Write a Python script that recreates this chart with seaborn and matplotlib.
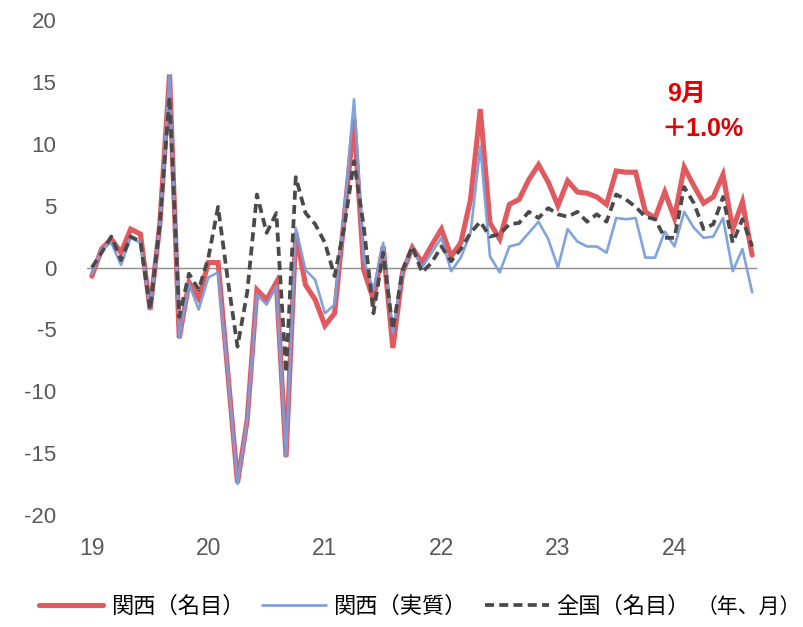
import numpy as np
import pandas as pd
import matplotlib
matplotlib.use("Agg")
import matplotlib.pyplot as plt
from matplotlib.lines import Line2D
import seaborn as sns

sns.set_style("white")
plt.rcParams["font.family"] = ["Liberation Sans", "Noto Sans CJK JP", "DejaVu Sans"]

# Monthly year-on-year change (%), Jan 2019 - Sep 2024
kansai_nominal = [
    -0.7, 1.5, 2.3, 1.2, 3.1, 2.7, -3.4, 3.5, 15.6, -5.7, -1.2, -2.5,
    0.4, 0.4, -8.5, -17.4, -12.3, -1.8, -2.6, -1.2, -15.3, 2.8, -1.4, -2.6,
    -4.7, -3.7, 4.1, 12.0, -0.2, -2.6, 1.7, -6.5, -0.4, 1.6, 0.4, 1.8,
    3.1, 0.9, 2.0, 5.5, 12.8, 3.6, 2.3, 5.1, 5.5, 7.1, 8.3, 6.9,
    5.0, 7.0, 6.1, 6.0, 5.7, 5.1, 7.8, 7.7, 7.7, 4.5, 4.0, 6.1,
    4.0, 8.1, 6.6, 5.2, 5.7, 7.5, 3.1, 5.3, 1.0,
]
kansai_real = [
    -0.5, 1.5, 2.0, 0.2, 2.4, 2.0, -3.4, 3.5, 15.5, -5.7, -1.3, -3.4,
    -0.8, -0.4, -8.5, -17.5, -12.3, -2.2, -3.0, -1.5, -15.3, 3.2, -0.2, -1.0,
    -3.7, -3.0, 4.5, 13.6, 0.6, -1.8, 2.0, -5.3, -0.2, 1.5, 0.0, 1.2,
    2.4, -0.3, 0.8, 2.8, 9.8, 0.9, -0.4, 1.7, 1.9, 2.8, 3.7, 2.3,
    0.0, 3.1, 2.1, 1.7, 1.7, 1.2, 4.0, 3.9, 4.0, 0.8, 0.8, 2.9,
    1.7, 4.5, 3.2, 2.4, 2.5, 4.0, -0.3, 1.5, -2.0,
]
national_nominal = [
    0.0, 1.2, 2.5, 0.6, 2.5, 2.1, -3.4, 3.5, 13.8, -4.0, -0.5, -1.8,
    0.8, 4.9, -1.0, -6.4, -2.0, 5.9, 2.8, 4.4, -8.5, 7.3, 4.4, 3.5,
    2.0, -0.7, 3.3, 8.6, 3.3, -3.7, 1.2, -5.0, -0.2, 1.7, -0.4, 0.4,
    1.7, 0.5, 1.5, 2.8, 3.7, 2.5, 2.7, 3.5, 3.6, 4.5, 4.0, 4.8,
    4.3, 4.1, 4.5, 3.7, 4.3, 3.7, 5.9, 5.5, 4.9, 4.1, 3.9, 2.4,
    2.4, 6.5, 5.2, 3.1, 3.5, 5.7, 2.0, 3.9, 1.7,
]
year_labels = ["19", "20", "21", "22", "23", "24"]
series_names = ["関西（名目）", "関西（実質）", "全国（名目）"]
unit_note = "（年、月）"

months = np.arange(len(kansai_nominal))
df = pd.DataFrame({
    "month": months,
    "nominal": kansai_nominal,
    "real": kansai_real,
    "national": national_nominal,
})

RED = "#e05a60"
BLUE = "#7a9fdc"
GREY = "#4a4a4a"
TEXT = "#595959"
DASH = (0, (2.4, 1.4))

fig = plt.figure(figsize=(8.04, 6.27), dpi=100)
ax = fig.add_axes([87 / 804, 1 - 515 / 627, 670 / 804, 495 / 627])

ax.axhline(0, color="#8c8c8c", lw=1.0, zorder=1)

sns.lineplot(data=df, x="month", y="nominal", ax=ax, color=RED, lw=3.7,
             zorder=3, solid_joinstyle="miter")
sns.lineplot(data=df, x="month", y="real", ax=ax, color=BLUE, lw=1.9,
             zorder=4, alpha=0.95)
sns.lineplot(data=df, x="month", y="national", ax=ax, color=GREY, lw=2.7,
             zorder=5, linestyle=DASH)

ax.set_xlim(-0.5, len(months) - 0.5)
ax.set_ylim(-20, 20)
ax.set_yticks(np.arange(-20, 21, 5))
ax.set_yticklabels([str(v) for v in range(-20, 21, 5)])
ax.set_xticks(np.arange(0, len(months), 12))
ax.set_xticklabels(year_labels)
ax.tick_params(axis="y", length=0, pad=22, labelsize=16, labelcolor=TEXT)
ax.tick_params(axis="x", length=0, pad=16, labelsize=16.5, labelcolor=TEXT)
ax.set_xlabel("")
ax.set_ylabel("")
for s in ax.spines.values():
    s.set_visible(False)

# Latest-month annotation
ax.text(61.2, 14.0, "9月", color="#e00000", fontsize=18, fontweight="bold",
        ha="center", va="center")
ax.text(62.9, 11.2, f"＋{kansai_nominal[-1]:.1f}%", color="#e00000",
        fontsize=18, fontweight="bold", ha="center", va="center")

handles = [
    Line2D([], [], color=RED, lw=3.7),
    Line2D([], [], color=BLUE, lw=1.9),
    Line2D([], [], color=GREY, lw=2.7, linestyle=DASH),
]
fig.legend(handles, series_names, loc="center left",
           bbox_to_anchor=(39 / 804, 20 / 627), ncol=3, frameon=False,
           fontsize=16, handlelength=2.9, handletextpad=0.32,
           columnspacing=0.8, labelcolor="#000000", borderaxespad=0,
           borderpad=0)
fig.text(801 / 804, 20 / 627, unit_note, fontsize=15, ha="right",
         va="center", color="#000000")

fig.savefig("out.png", dpi=100)
